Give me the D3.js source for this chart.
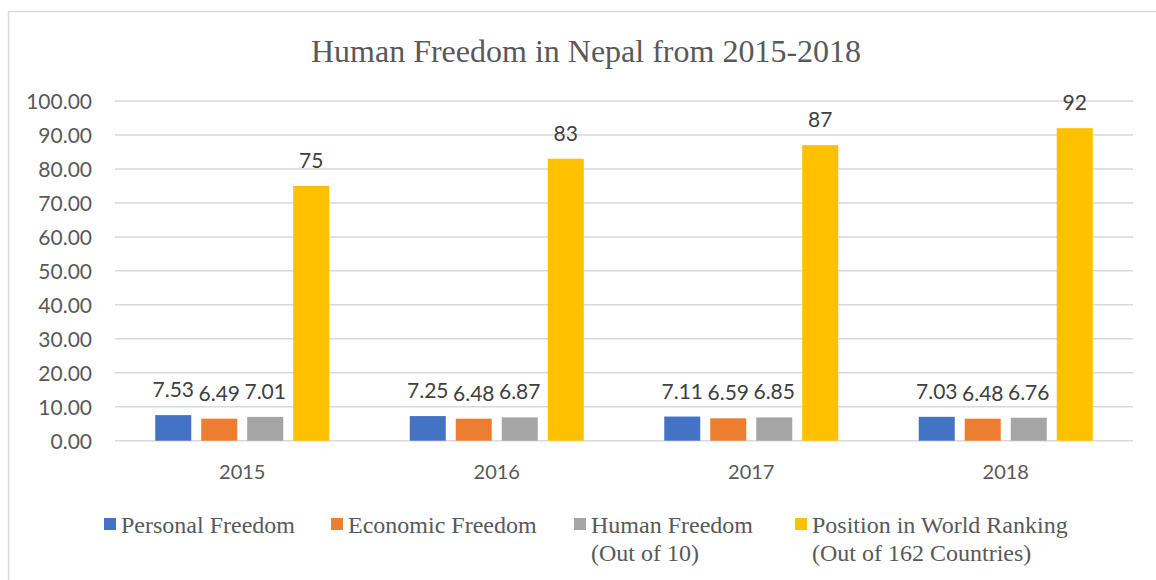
<!DOCTYPE html>
<html>
<head>
<meta charset="utf-8">
<script src="https://cdn.jsdelivr.net/npm/d3@7/dist/d3.min.js"></script>
<style>
  html, body { margin: 0; padding: 0; background: #fff; }
  svg { display: block; }
</style>
</head>
<body>
<svg id="chart" width="1156" height="580"></svg>
<script>
// Chart data
const years = ["2015", "2016", "2017", "2018"];
const seriesNames = [
  ["Personal Freedom"],
  ["Economic Freedom"],
  ["Human Freedom", "(Out of 10)"],
  ["Position in World Ranking", "(Out of 162 Countries)"]
];
const personalFreedom = [7.53, 7.25, 7.11, 7.03];
const economicFreedom = [6.49, 6.48, 6.59, 6.48];
const humanFreedom = [7.01, 6.87, 6.85, 6.76];
const worldRanking = [75, 83, 87, 92];
const yTicks = [0, 10, 20, 30, 40, 50, 60, 70, 80, 90, 100];
const colors = ["#4472C4", "#ED7D31", "#A5A5A5", "#FFC000"];

const series = [personalFreedom, economicFreedom, humanFreedom, worldRanking];

const svg = d3.select("#chart");

// Outer frame
svg.append("rect")
  .attr("x", 8.5).attr("y", 11.5)
  .attr("width", 1160).attr("height", 600)
  .attr("fill", "#fff")
  .attr("stroke", "#d9d9d9").attr("stroke-width", 1.5);

// Title
svg.append("text")
  .attr("x", 586).attr("y", 62)
  .attr("text-anchor", "middle")
  .attr("font-family", "'Liberation Serif', 'Times New Roman', serif")
  .attr("font-size", 32)
  .attr("fill", "#595959")
  .text("Human Freedom in Nepal from 2015-2018");

const plot = { left: 115, right: 1133, top: 101, bottom: 440.7 };

const x0 = d3.scaleBand().domain(years).range([plot.left, plot.right]).paddingInner(0).paddingOuter(0);
const groupPad = 40.25;
const x1 = d3.scaleBand().domain(d3.range(4))
  .range([groupPad, x0.bandwidth() - groupPad]).paddingInner(0.217).paddingOuter(0);
const y = d3.scaleLinear().domain([0, 100]).range([plot.bottom, plot.top]);

// Gridlines
svg.append("g").selectAll("line").data(yTicks).join("line")
  .attr("x1", plot.left).attr("x2", plot.right)
  .attr("y1", d => y(d)).attr("y2", d => y(d))
  .attr("stroke", "#d9d9d9").attr("stroke-width", 1.5);

// Y axis labels
const yAxis = d3.axisLeft(y).tickValues(yTicks).tickFormat(d3.format(".2f")).tickSize(0).tickPadding(0);
const yg = svg.append("g").attr("transform", `translate(92,0)`).call(yAxis);
yg.select(".domain").remove();
yg.selectAll("text")
  .attr("font-family", "Lato, 'Open Sans', sans-serif")
  .attr("font-size", 21)
  .attr("fill", "#595959")
  .attr("dy", "0.36em");

// X axis labels
const xAxis = d3.axisBottom(x0).tickSize(0).tickPadding(0);
const xg = svg.append("g").attr("transform", `translate(0,${plot.bottom})`).call(xAxis);
xg.select(".domain").remove();
xg.selectAll("text")
  .attr("font-family", "Lato, 'Open Sans', sans-serif")
  .attr("font-size", 20)
  .attr("fill", "#595959")
  .attr("y", 38).attr("dy", 0);

// Bars and value labels
const groups = svg.append("g").selectAll("g").data(years).join("g")
  .attr("transform", d => `translate(${x0(d)},0)`);

groups.each(function(year, yi) {
  const g = d3.select(this);
  series.forEach((vals, si) => {
    const v = vals[yi];
    g.append("rect")
      .attr("x", x1(si)).attr("width", x1.bandwidth())
      .attr("y", y(v)).attr("height", y(0) - y(v))
      .attr("fill", colors[si]);
    g.append("text")
      .attr("x", x1(si) + x1.bandwidth() / 2)
      .attr("y", y(v) - 18)
      .attr("text-anchor", "middle")
      .attr("font-family", "Lato, 'Open Sans', sans-serif")
      .attr("font-size", 21)
      .attr("fill", "#404040")
      .text(si === 3 ? d3.format("d")(v) : d3.format(".2f")(v));
  });
});

// Legend
const legendX = [104, 331, 574, 795];
const legend = svg.append("g");
seriesNames.forEach((lines, i) => {
  const lg = legend.append("g").attr("transform", `translate(${legendX[i]},0)`);
  lg.append("rect")
    .attr("x", 0).attr("y", 518).attr("width", 12).attr("height", 12)
    .attr("fill", colors[i]);
  const t = lg.append("text")
    .attr("font-family", "'Liberation Serif', 'Times New Roman', serif")
    .attr("font-size", 24)
    .attr("fill", "#595959");
  lines.forEach((line, li) => {
    t.append("tspan").attr("x", 17).attr("y", 533 + li * 28).text(line);
  });
});
</script>
</body>
</html>
